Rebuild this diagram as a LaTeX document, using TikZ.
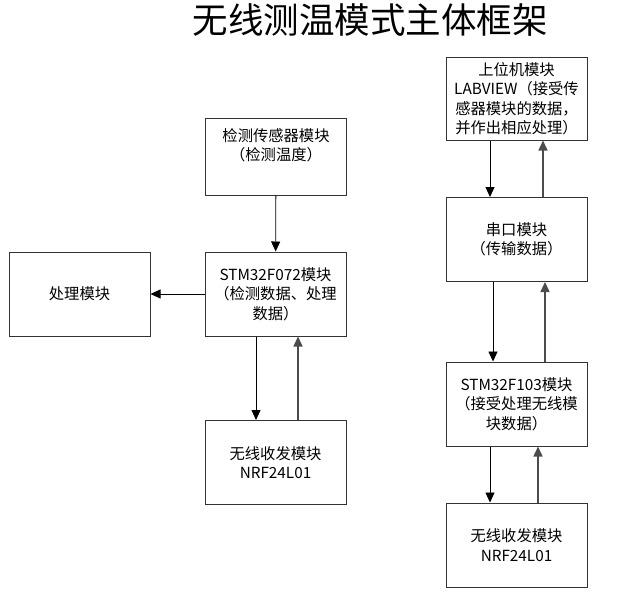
\documentclass[tikz,border=0pt]{standalone}
\usepackage{fontspec}
\setmainfont{Noto Sans CJK SC}
\usepackage{tikz}
\usetikzlibrary{arrows.meta}
\usetikzlibrary{positioning}

\begin{document}
\begin{tikzpicture}[x=1pt,y=-1pt,
	mod/.style={fill=white, draw=black!80, line width=1pt, shape=rectangle, minimum width=141pt, minimum height=84pt, align=center, inner sep=2pt, font=\fontsize{15.3}{19.5}\selectfont},
	dn/.style={draw=black, line width=0.8pt, -{Triangle[length=10pt,width=9pt]}},
	up/.style={draw=black!70, line width=1.4pt, -{Triangle[length=10pt,width=9pt]}}]
	\useasboundingbox (0,0) rectangle (642,595);

	\node [font=\fontsize{35.5}{40}\selectfont] (0) at (370, 20) {无线测温模式主体框架};

	% left part
	\node [mod, minimum height=77pt] (1) at (276, 156.5) {检测传感器模块\\（检测温度）\\[4pt]};
	\node [mod] (2) at (275.5, 294) {STM32F072模块\\（检测数据、处理\\数据）};
	\node [mod] (3) at (79.5, 294) {处理模块};
	\node [mod] (4) at (275.5, 462.5) {无线收发模块\\NRF24L01};

	% right part
	\node [mod, minimum height=83pt] (5) at (516.5, 98.5) {上位机模块\\LABVIEW（接受传\\感器模块的数据，\\并作出相应处理）};
	\node [mod] (6) at (516.5, 239.5) {串口模块\\（传输数据）};
	\node [mod] (7) at (516.5, 404) {STM32F103模块\\（接受处理无线模\\块数据）};
	\node [mod] (8) at (516.5, 545) {无线收发模块\\NRF24L01};

	\draw [dn] (1) to (2);
	\draw [dn] (2) to (3);
	\draw [dn] ([xshift=-19.5pt]2.south) to ([xshift=-19.5pt]4.north);
	\draw [up] ([xshift=22.5pt]4.north) to ([xshift=22.5pt]2.south);

	\draw [dn] ([xshift=-26.5pt]5.south) to ([xshift=-26.5pt]6.north);
	\draw [up] ([xshift=26.5pt]6.north) to ([xshift=26.5pt]5.south);
	\draw [dn] ([xshift=-23.5pt]6.south) to ([xshift=-23.5pt]7.north);
	\draw [up] ([xshift=28.5pt]7.north) to ([xshift=28.5pt]6.south);
	\draw [dn] ([xshift=-26.5pt]7.south) to ([xshift=-26.5pt]8.north);
	\draw [up] ([xshift=21.5pt]8.north) to ([xshift=21.5pt]7.south);
\end{tikzpicture}
\end{document}
